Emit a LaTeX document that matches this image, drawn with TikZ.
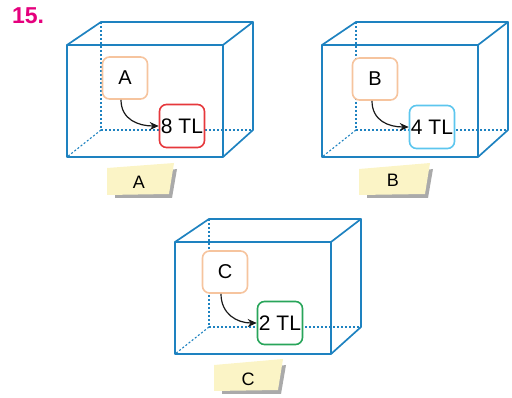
\documentclass[tikz,border=0pt]{standalone}
\usepackage{fontspec}
\setmainfont{Liberation Sans}
\usetikzlibrary{arrows.meta}
\definecolor{boxblue}{RGB}{30,130,192}
\definecolor{peach}{RGB}{246,196,158}
\definecolor{tlred}{RGB}{230,56,60}
\definecolor{tlcyan}{RGB}{92,198,238}
\definecolor{tlgreen}{RGB}{40,165,90}
\definecolor{tagyellow}{RGB}{251,244,198}
\definecolor{shadowgray}{RGB}{170,170,170}
\definecolor{qmagenta}{RGB}{229,0,125}
\newcommand\tagbg[4]{% x0 y0 W ytopleft offset
  \fill[shadowgray] (#1+#3-4,#2+7) -- (#1+#3+3,#2+6) -- (#1+#3-2,#2+35) -- (#1+8,#2+35) -- (#1+8,#2+31) -- cycle;
  \fill[tagyellow] (#1,#2+#4) -- (#1+#3,#2) -- (#1+#3-5,#2+31) -- (#1,#2+32) -- cycle;
}
\newcommand\cubeat[2]{%
  \begin{scope}[shift={(#1,#2)}]
    \draw[hid] (101,22) -- (101,130) -- (253,130);
    \draw[hid] (101,130) -- (67,157);
    \draw[edge] (67,45) -- (101,22) -- (253,22) -- (223,45);
    \draw[edge] (253,22) -- (253,130) -- (223,157);
    \draw[frontedge] (67,45) rectangle (223,157);
  \end{scope}}
\tikzset{
  hid/.style={boxblue, line width=1.1pt, dash pattern=on 2pt off 2pt},
  edge/.style={boxblue, line width=1.7pt, line join=round},
  frontedge/.style={boxblue, line width=2.1pt, line join=round},
  letterbox/.style={draw=peach, line width=1.6pt, fill=white, rounded corners=7pt,
    minimum width=45pt, minimum height=42pt, inner sep=0pt, font=\fontsize{20}{20}\selectfont},
  tlbox/.style={line width=1.6pt, fill=white, rounded corners=7pt,
    minimum width=45pt, minimum height=43pt, inner sep=0pt, font=\fontsize{21}{21}\selectfont},
  tagtext/.style={inner sep=0pt, font=\fontsize{18}{18}\selectfont},
  arr/.style={-{Stealth[length=9pt,width=8pt]}, line width=1.2pt, black!90},
}
\begin{document}
\begin{tikzpicture}[x=1pt,y=-1pt]
\useasboundingbox (0,0) rectangle (512,398);
\node[font=\fontsize{23}{23}\selectfont\bfseries, text=qmagenta, inner sep=0pt] (num) at (28,16) {15.};

\cubeat{0}{0}
\cubeat{255}{0}
\cubeat{108}{197}

% box A
\node[letterbox] (a) at (125,78) {A};
\node[tlbox, draw=tlred] (t8) at (182,126) {8 TL};
\draw[arr] ([xshift=-4pt]a.south) .. controls +(0,20) and +(-20,0) .. (t8.west);
% box B
\node[letterbox] (b) at (375,79) {B};
\node[tlbox, draw=tlcyan] (t4) at (432,127) {4 TL};
\draw[arr] ([xshift=-3pt]b.south) .. controls +(0,20) and +(-20,0) .. (t4.west);
% box C
\node[letterbox] (c) at (225,272) {C};
\node[tlbox, draw=tlgreen] (t2) at (280,323) {2 TL};
\draw[arr] ([xshift=-4pt]c.south) .. controls +(0,20) and +(-20,0) .. (t2.west);

% tags
\tagbg{107}{163}{67}{5}
\node[tagtext] (la) at (139,182) {A};
\tagbg{359}{163}{71}{6}
\node[tagtext] (lb) at (393,180) {B};
\tagbg{214}{359}{69}{6}
\node[tagtext] (lc) at (248,379) {C};
\end{tikzpicture}
\end{document}
